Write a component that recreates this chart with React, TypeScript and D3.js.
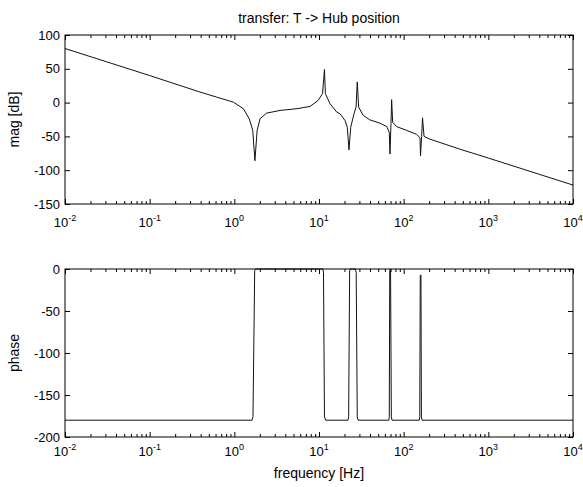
import React, { useEffect, useRef } from 'react';
import * as d3 from 'd3';

// magnitude trace (Hz, dB)
const magFreq = [
  0.01, 0.1, 0.393, 0.617, 0.973, 1.28, 1.5, 1.65, 1.75, 1.86, 2.01, 2.4, 3.47, 5.5, 7.83, 9.77,
  11.0, 11.6, 11.9, 13.5, 16.2, 17.7, 20.3, 21.6, 22.6, 23.7, 25.9, 27.4, 28.3, 29.4, 33.3, 39.8,
  52.5, 63.1, 67.6, 68.9, 70.8, 72.1, 74.1, 82.6, 108, 142, 156, 158, 163, 167, 174, 204, 454,
  1000, 10000,
];
const magDb = [
  80, 40, 15.6, 8.2, 0.7, -9, -24, -41, -86, -41, -24, -15.6, -11.6, -9, -5.7, 3.3,
  13.2, 49, 13.2, -1.7, -14, -16.5, -26.5, -36.5, -70, -36.5, -16.5, -6.7, 30.5, -6.7, -19, -25.5,
  -30.5, -35.5, -44, -76, -31, 4.3, -29, -35.5, -41, -47, -52, -78.6, -50, -22.5, -50, -54, -68.6,
  -82, -122,
];

// phase trace (Hz, deg)
const phaseFreq = [
  0.01, 1.62, 1.66, 1.74, 1.78, 11.1, 11.3, 11.6, 12.0, 22.0, 22.4, 23.0, 23.4, 26.9, 27.5, 28.3,
  29.0, 66.8, 67.6, 68.5, 69.5, 70.0, 71.5, 72.8, 153, 155, 157, 160, 162, 165, 10000,
];
const phaseDeg = [
  -180, -180, -176, -2, 0, 0, -4, -176, -180, -180, -176, -2, 0, 0, -4, -176,
  -180, -180, -176, -2, 0, -2, -176, -180, -180, -176, -8, -7, -176, -180, -180,
];

const decades = [1e-2, 1e-1, 1e0, 1e1, 1e2, 1e3, 1e4];
const decadeExp = ['-2', '-1', '0', '1', '2', '3', '4'];
const magTicks = [100, 50, 0, -50, -100, -150];
const phaseTicks = [0, -50, -100, -150, -200];

const W = 583;
const H = 487;
const LEFT = 65;
const RIGHT = 573;
const FONT = 'Liberation Sans, Arial, Helvetica, sans-serif';

const App = () => {
  const ref = useRef<SVGSVGElement>(null);

  useEffect(() => {
    const svg = d3.select(ref.current);
    svg.selectAll('*').remove();

    const x = d3.scaleLog().domain([1e-2, 1e4]).range([LEFT, RIGHT]);
    const minors: number[] = [];
    decades.slice(0, -1).forEach(d => {
      for (let k = 2; k <= 9; k++) minors.push(d * k);
    });

    const panel = (top, bottom, domain, ticks, freq, vals, ylabel, labelGap) => {
      const y = d3.scaleLinear().domain(domain).range([bottom, top]);
      const g = svg.append('g');

      const line = d3.line<number>()
        .x((_, i) => x(freq[i]))
        .y(d => y(d));
      g.append('path')
        .datum(vals)
        .attr('d', line)
        .attr('fill', 'none')
        .attr('stroke', '#111')
        .attr('stroke-width', 1);

      g.append('rect')
        .attr('x', LEFT)
        .attr('y', top)
        .attr('width', RIGHT - LEFT)
        .attr('height', bottom - top)
        .attr('fill', 'none')
        .attr('stroke', '#000')
        .attr('stroke-width', 1);

      // plain hyphen for negatives, like the original
      const left = g.append('g')
        .attr('transform', `translate(${LEFT},0)`)
        .call(d3.axisLeft(y).tickValues(ticks).tickSize(-5).tickPadding(5).tickFormat(d => String(d)));
      left.select('.domain').remove();
      left.selectAll('text').style('font-size', '13px').style('font-family', FONT).attr('fill', '#000');

      const right = g.append('g')
        .attr('transform', `translate(${RIGHT},0)`)
        .call(d3.axisRight(y).tickValues(ticks).tickSize(-5).tickFormat(() => ''));
      right.select('.domain').remove();

      [[bottom, d3.axisBottom], [top, d3.axisTop]].forEach(([yy, ax]) => {
        const major = g.append('g')
          .attr('transform', `translate(0,${yy})`)
          .call(ax(x).tickValues(decades).tickSize(-5).tickFormat(() => ''));
        major.select('.domain').remove();
        const minor = g.append('g')
          .attr('transform', `translate(0,${yy})`)
          .call(ax(x).tickValues(minors).tickSize(-3).tickFormat(() => ''));
        minor.select('.domain').remove();
      });

      const labels = g.append('g').style('font-family', FONT);
      decades.forEach((d, i) => {
        const t = labels.append('text')
          .attr('x', x(d))
          .attr('y', bottom + labelGap)
          .attr('text-anchor', 'middle')
          .style('font-size', '13px');
        t.append('tspan').text('10');
        t.append('tspan').attr('dy', -6).style('font-size', '9px').text(decadeExp[i]);
      });

      g.append('text')
        .attr('transform', `translate(19,${(top + bottom) / 2}) rotate(-90)`)
        .attr('text-anchor', 'middle')
        .style('font-family', FONT)
        .style('font-size', '14px')
        .text(ylabel);
    };

    panel(35, 204, [-150, 100], magTicks, magFreq, magDb, 'mag [dB]', 23);
    panel(269, 437, [-200, 0], phaseTicks, phaseFreq, phaseDeg, 'phase', 19);

    svg.append('text')
      .attr('x', (LEFT + RIGHT) / 2)
      .attr('y', 23)
      .attr('text-anchor', 'middle')
      .style('font-family', FONT)
      .style('font-size', '14px')
      .text('transfer: T -> Hub position');

    svg.append('text')
      .attr('x', (LEFT + RIGHT) / 2)
      .attr('y', 478)
      .attr('text-anchor', 'middle')
      .style('font-family', FONT)
      .style('font-size', '14px')
      .text('frequency [Hz]');
  }, []);

  return (
    <svg
      ref={ref}
      width={W}
      height={H}
      style={{ position: 'absolute', left: 0, top: 0, background: '#fff' }}
    />
  );
};

export default App;
